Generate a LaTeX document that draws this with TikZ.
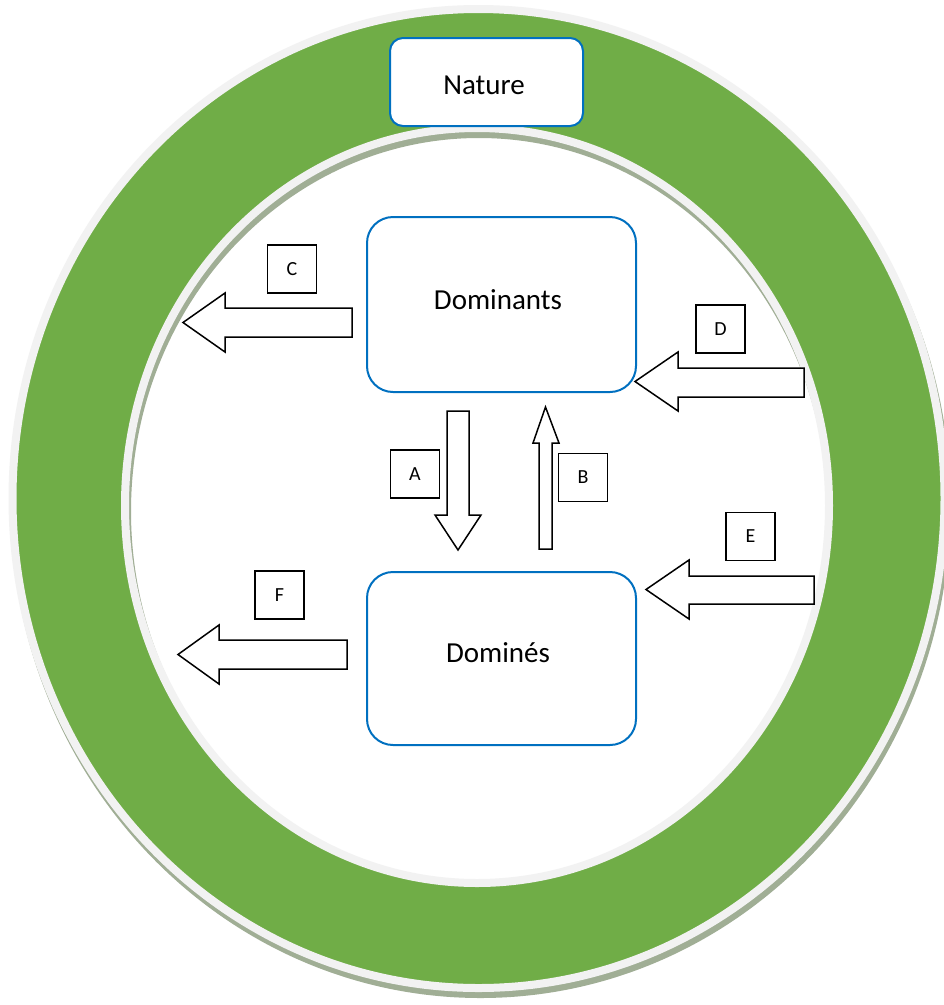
\documentclass[tikz,border=0pt]{standalone}
\usepackage{fontspec}
\setmainfont{Carlito}
\definecolor{ringgreen}{HTML}{70AD47}
\definecolor{ringgrey}{HTML}{F2F2F2}
\definecolor{shadowc}{HTML}{A0AE95}
\definecolor{boxblue}{HTML}{0070C0}
\begin{document}
\begin{tikzpicture}[x=1pt,y=-1pt,
  bluebox/.style={draw=boxblue, line width=2pt, fill=white, rounded corners=#1, inner sep=0pt},
  bluebox/.default=26pt,
  bigtext/.style={inner sep=0pt, anchor=base, font=\fontsize{29}{34}\selectfont},
  lbox/.style={draw=black, line width=1.5pt, fill=white, inner sep=0pt,
    minimum width=49pt, minimum height=48pt, font=\fontsize{20}{24}\selectfont},
  blockarrow/.style={draw=black, line width=1.5pt, fill=white, line join=miter}]
\useasboundingbox (0,0) rectangle (944,1005);
\clip (0,0) rectangle (944,1005);
\fill[white] (0,0) rectangle (944,1005);
% shadow of the ring
\fill[shadowc, even odd rule]
  (480.5,504.5) ellipse [x radius=470pt, y radius=493.5pt]
  (479,511.5) ellipse [x radius=348pt, y radius=373.5pt];
% ring
\path[fill=ringgreen, draw=ringgrey, line width=8pt, even odd rule]
  (478.5,498.5) ellipse [x radius=466pt, y radius=489.5pt]
  (477,505.5) ellipse [x radius=352pt, y radius=377.5pt];
% Nature box
\node[bluebox=13pt, minimum width=193pt, minimum height=88pt] (nature) at (486.5,82) {};
\node[bigtext] (tnature) at (484,94) {Nature};
% main boxes
\node[bluebox, minimum width=269pt, minimum height=175pt] (dom) at (501.5,304.5) {};
\node[bigtext] (tdom) at (498,309) {Dominants};
\node[bluebox, minimum width=269pt, minimum height=173pt] (domd) at (501.5,658.5) {};
\node[bigtext] (tdomd) at (498,662) {Dominés};
% block arrows
\draw[blockarrow] (447,411) -- (469,411) -- (469,515) -- (481,515) -- (458,550) -- (435,515) -- (447,515) -- cycle;
\draw[blockarrow] (539,549) -- (552,549) -- (552,443) -- (559,443) -- (545.5,407) -- (533,443) -- (539,443) -- cycle;
\draw[blockarrow] (352,308) -- (225,308) -- (225,293) -- (183,322.5) -- (225,352) -- (225,337) -- (352,337) -- cycle;
\draw[blockarrow] (804,368) -- (678,368) -- (678,352) -- (635,381.5) -- (678,411) -- (678,397) -- (804,397) -- cycle;
\draw[blockarrow] (814,576) -- (689,576) -- (689,560) -- (646,589.5) -- (689,619) -- (689,604) -- (814,604) -- cycle;
\draw[blockarrow] (347,640) -- (219,640) -- (219,625) -- (178,654.5) -- (219,684) -- (219,669) -- (347,669) -- cycle;
% letter boxes
\node[lbox] (A) at (415,474) {A};
\node[lbox] (B) at (583,477.5) {B};
\node[lbox] (C) at (292,269) {C};
\node[lbox] (D) at (720.5,329) {D};
\node[lbox] (E) at (750.5,536.5) {E};
\node[lbox] (F) at (279.5,595) {F};
\end{tikzpicture}
\end{document}
